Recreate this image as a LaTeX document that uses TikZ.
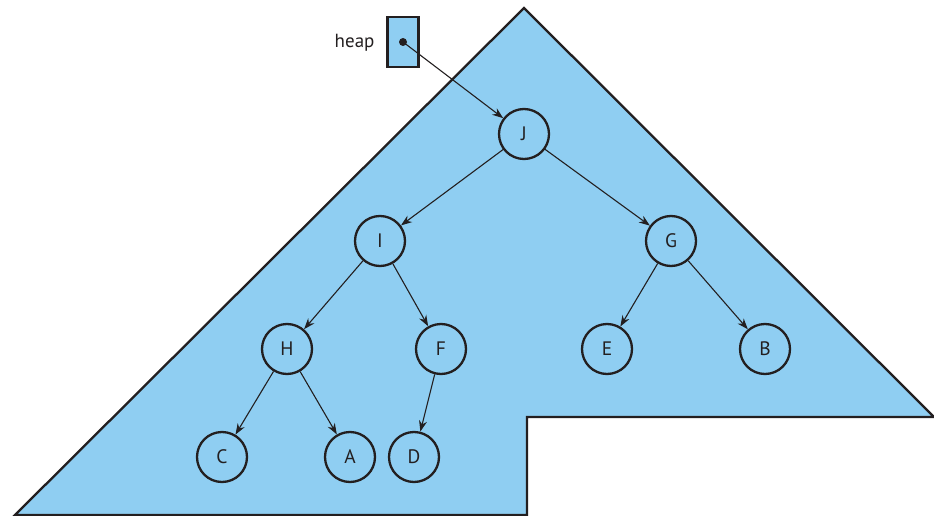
\documentclass[tikz,border=0pt]{standalone}
\usepackage{fontspec}
\setmainfont{PT Sans}
\usetikzlibrary{arrows.meta}
\definecolor{heapblue}{RGB}{143,206,242}
\definecolor{ink}{RGB}{35,31,32}
\begin{document}
\begin{tikzpicture}[x=1pt,y=-1pt,
  tnode/.style={circle,draw=ink,line width=2.3pt,minimum size=50pt,inner sep=0pt,font=\fontsize{19.5}{21}\selectfont,text=ink},
  tedge/.style={draw=ink,line width=1.1pt,-{Stealth[length=11pt,width=8pt]}}]
\useasboundingbox (0,0) rectangle (934,516);
\fill[heapblue] (524,8) -- (934,417) -- (527,417) -- (527,515) -- (15,515) -- cycle;
\draw[ink,line width=2.3pt,line join=miter] (524,8) -- (934,417) -- (527,417) -- (527,515) -- (15,515) -- cycle;
\node[draw=ink,fill=heapblue,line width=2.3pt,minimum width=31pt,minimum height=50pt,inner sep=0pt] (box) at (403,42) {};
\node[font=\fontsize{19}{21}\selectfont,text=ink,anchor=east] (lbl) at (378,43) {heap};
\fill[ink] (box.center) circle (4pt);
\coordinate (dot) at (box.center);
\node[tnode] (J) at (524,134) {J};
\node[tnode] (I) at (380,241) {I};
\node[tnode] (G) at (671,241) {G};
\node[tnode] (H) at (287,349) {H};
\node[tnode] (F) at (441,349) {F};
\node[tnode] (E) at (607,349) {E};
\node[tnode] (B) at (765,349) {B};
\node[tnode] (C) at (222,457) {C};
\node[tnode] (A) at (350,457) {A};
\node[tnode] (D) at (414,457) {D};
\draw[tedge] (dot) -- (J);
\draw[tedge] (J) -- (I);
\draw[tedge] (J) -- (G);
\draw[tedge] (I) -- (H);
\draw[tedge] (I) -- (F);
\draw[tedge] (G) -- (E);
\draw[tedge] (G) -- (B);
\draw[tedge] (H) -- (C);
\draw[tedge] (H) -- (A);
\draw[tedge] (F) -- (D);
\end{tikzpicture}
\end{document}
